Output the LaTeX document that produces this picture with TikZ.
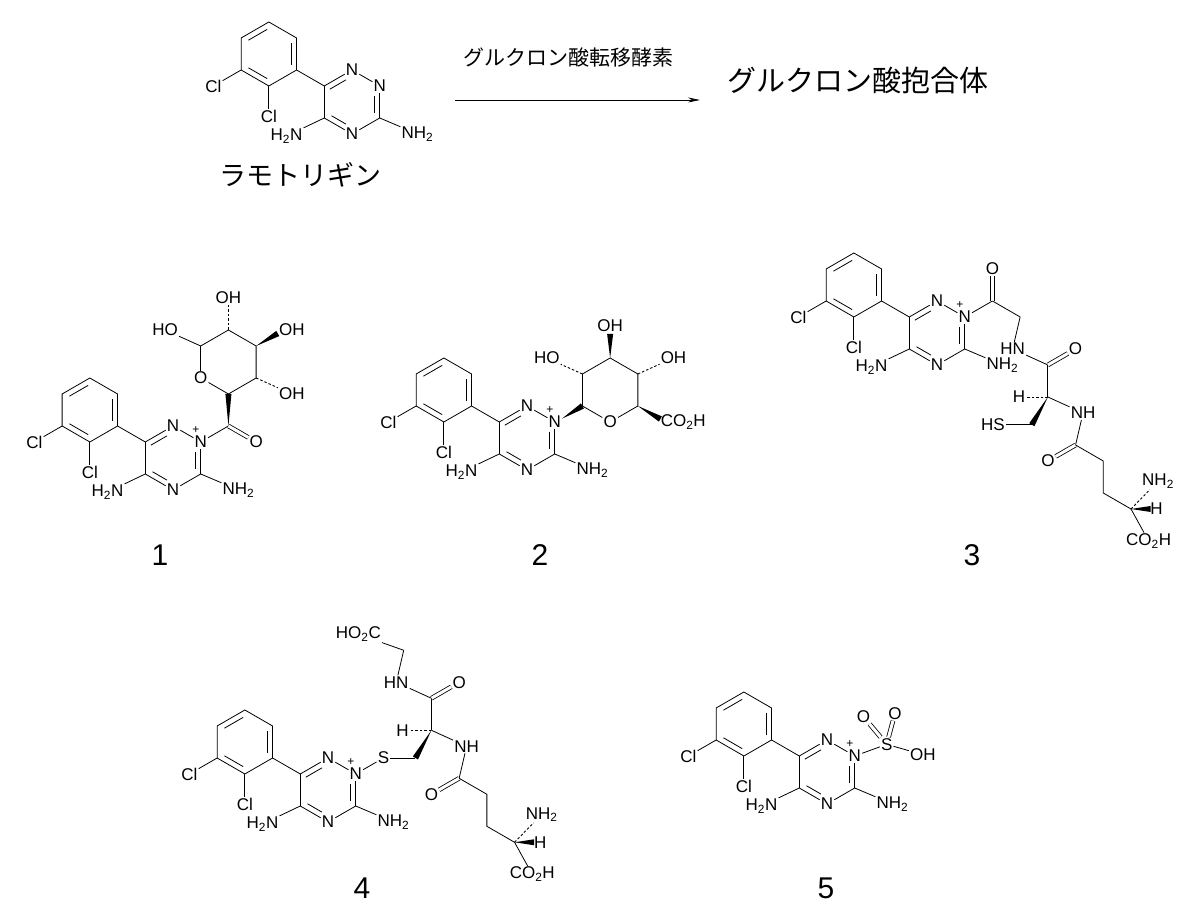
\documentclass[tikz,border=0pt]{standalone}
\usepackage{fontspec}
\setsansfont{Liberation Sans}
\newfontfamily\jpfont{Noto Sans CJK JP}
\usetikzlibrary{calc, arrows.meta}

\def\bl{32pt} % bond length

\tikzset{
    atom/.style = {font=\sffamily\fontsize{17}{17}\selectfont, inner sep=1pt},
    chg/.style = {font=\sffamily\fontsize{12}{12}\selectfont, inner sep=0pt},
    bond/.style = {line width=0.8pt},
    dbl/.style = {line width=0.8pt, double, double distance=3pt},
    hash/.style = {line width=0.9pt, dash pattern=on 2.5pt off 2pt},
    caption/.style = {font=\sffamily\fontsize{30}{30}\selectfont}
}

% wedge bond: narrow at #1, wide at #2, stopping #3 before #2
\newcommand{\wdg}[3]{%
    \coordinate (wdgend) at ($(#2)!#3!(#1)$);
    \fill (#1) -- ($(wdgend)!3pt!90:(#1)$) -- ($(wdgend)!3pt!-90:(#1)$) -- cycle;}

% lamotrigine core, triazine centred at the scope origin
\newcommand{\lamcore}[2]{%
    \node[atom] (#1n1) at (90:\bl) {N};
    \node[atom,#2] (#1n2) at (30:\bl) {N};
    \node[atom] (#1n4) at (-90:\bl) {N};
    \coordinate (#1c3) at (-30:\bl);
    \coordinate (#1c5) at (-150:\bl);
    \coordinate (#1c6) at (150:\bl);
    \coordinate (#1bz) at ($(#1c6)+(150:2*\bl)$);
    \foreach \k in {90,30,-30,-90,-150,150}
        \coordinate (#1b\k) at ($(#1bz)+(\k:\bl)$);
    \node[atom] (#1cl1) at ($(#1b-150)+(-150:\bl)$) {Cl};
    \node[atom] (#1cl2) at ($(#1b-90)+(-90:0.95*\bl)$) {Cl};
    \node[atom,anchor=west,xshift=-7pt] (#1nh) at ($(#1c3)+(-30:\bl)$) {NH\textsubscript{2}};
    \node[atom,anchor=east,xshift=7pt,yshift=-2pt] (#1hn) at ($(#1c5)+(-150:\bl)$) {H\textsubscript{2}N};
    \draw[bond] (#1c6) -- (#1n1);
    \draw[bond] (#1n1) -- (#1n2);
    \draw[bond] (#1n2) -- (#1c3);
    \draw[bond] (#1c3) -- (#1n4);
    \draw[bond] (#1n4) -- (#1c5);
    \draw[bond] (#1c5) -- (#1c6);
    \draw[bond,shorten >=7pt] ($(0,0)!0.8!(#1c6)$) -- ($(0,0)!0.8!(#1n1)$);
    \draw[bond,shorten <=7pt,shorten >=2pt] ($(0,0)!0.8!(#1n2)$) -- ($(0,0)!0.8!(#1c3)$);
    \draw[bond,shorten >=7pt,shorten <=2pt] ($(0,0)!0.8!(#1c5)$) -- ($(0,0)!0.8!(#1n4)$);
    \draw[bond] (#1c6) -- (#1b-30);
    \draw[bond] (#1b90) -- (#1b30) -- (#1b-30) -- (#1b-90) -- (#1b-150) -- (#1b150) -- cycle;
    \draw[bond,shorten <=2pt,shorten >=2pt] ($(#1bz)!0.8!(#1b150)$) -- ($(#1bz)!0.8!(#1b90)$);
    \draw[bond,shorten <=2pt,shorten >=2pt] ($(#1bz)!0.8!(#1b30)$) -- ($(#1bz)!0.8!(#1b-30)$);
    \draw[bond,shorten <=2pt,shorten >=2pt] ($(#1bz)!0.8!(#1b-150)$) -- ($(#1bz)!0.8!(#1b-90)$);
    \draw[bond] (#1b-150) -- (#1cl1);
    \draw[bond] (#1b-90) -- (#1cl2);
    \draw[bond] (#1c3) -- (#1nh);
    \draw[bond] (#1c5) -- (#1hn);
}

\begin{document}
\begin{tikzpicture}[x=1pt, y=1pt]
    \useasboundingbox (0,0) rectangle (1200,923);

    % lamotrigine and the reaction
    \begin{scope}[shift={(352,821)}]
        \lamcore{l}{}
    \end{scope}
    \node[font=\jpfont\fontsize{27}{27}\selectfont] (lname) at (300,748) {ラモトリギン};
    \coordinate (arrs) at (455,823);
    \coordinate (arre) at (700,823);
    \draw[bond,-{Stealth[length=12pt,width=5pt]}] (arrs) -- (arre);
    \node[font=\jpfont\fontsize{21}{21}\selectfont] (enz) at (568,865) {グルクロン酸転移酵素};
    \node[font=\jpfont\fontsize{29}{29}\selectfont] (prod) at (858,843) {グルクロン酸抱合体};

    % compound 1
    \begin{scope}[shift={(173,465)}]
        \lamcore{a}{label={[chg,yshift=1pt]100:+}}
        \coordinate (ac) at ($(an2)+(30:\bl)$);
        \node[atom] (ao) at ($(ac)+(-30:\bl)$) {O};
        \coordinate (as) at ($(ac)+(0,2*\bl)$);
        \foreach \k in {90,30,-30,-90,150}
            \coordinate (ar\k) at ($(as)+(\k:\bl)$);
        \node[atom] (aor) at ($(as)+(-150:\bl)$) {O};
        \coordinate (at3) at ($(ar30)+(30:\bl)$);
        \node[atom,anchor=east,xshift=6pt] (aoh1) at ($(ar150)+(150:\bl)$) {HO};
        \node[atom] (aoh2) at ($(ar90)+(90:\bl)$) {OH};
        \node[atom,anchor=west,xshift=-6pt] (aoh3) at (at3) {OH};
        \node[atom,anchor=west,xshift=-6pt] (aoh4) at ($(ar-30)+(-30:\bl)$) {OH};
        \draw[bond] (an2) -- (ac);
        \draw[dbl] (ac) -- (ao);
        \wdg{ac}{ar-90}{0pt}
        \draw[bond] (ar-90) -- (aor);
        \draw[bond] (aor) -- (ar150);
        \draw[bond] (ar150) -- (ar90) -- (ar30) -- (ar-30) -- (ar-90);
        \draw[bond] (ar150) -- (aoh1);
        \draw[hash] (ar90) -- (aoh2);
        \wdg{ar30}{at3}{7pt}
        \draw[hash] (ar-30) -- (aoh4);
    \end{scope}
    \node[caption] (cap1) at (160,368) {1};

    % compound 2
    \begin{scope}[shift={(527,485)}]
        \lamcore{b}{label={[chg,yshift=1pt]100:+}}
        \coordinate (br-150) at ($(bn2)+(30:\bl)$);
        \coordinate (bs) at ($(br-150)+(30:\bl)$);
        \foreach \k in {150,90,30,-30}
            \coordinate (br\k) at ($(bs)+(\k:\bl)$);
        \node[atom] (bor) at ($(bs)+(-90:\bl)$) {O};
        \coordinate (bt2) at ($(br90)+(90:\bl)$);
        \coordinate (bt4) at ($(br-30)+(-30:\bl)$);
        \node[atom,anchor=east,xshift=6pt] (boh1) at ($(br150)+(150:\bl)$) {HO};
        \node[atom] (boh2) at (bt2) {OH};
        \node[atom,anchor=west,xshift=-6pt] (boh3) at ($(br30)+(30:\bl)$) {OH};
        \node[atom,anchor=west,xshift=-6pt] (bco) at (bt4) {CO\textsubscript{2}H};
        \wdg{bn2}{br-150}{0pt}
        \draw[bond] (br-150) -- (br150) -- (br90) -- (br30) -- (br-30);
        \draw[bond] (br-30) -- (bor);
        \draw[bond] (bor) -- (br-150);
        \draw[hash] (br150) -- (boh1);
        \wdg{br90}{bt2}{8pt}
        \draw[hash] (br30) -- (boh3);
        \wdg{br-30}{bt4}{6pt}
    \end{scope}
    \node[caption] (cap2) at (540,368) {2};

    % compound 3
    \begin{scope}[shift={(937,590)}]
        \lamcore{c}{label={[chg,yshift=1pt]100:+}}
        \coordinate (cc1) at ($(cn2)+(30:\bl)$);
        \node[atom] (co1) at ($(cc1)+(90:\bl)$) {O};
        \coordinate (cm) at ($(cc1)+(-30:\bl)$);
        \coordinate (chnp) at ($(cm)+(-90:\bl)$);
        \node[atom,anchor=east,xshift=6pt] (chn) at (chnp) {HN};
        \coordinate (cc2) at ($(chnp)+(-30:\bl)$);
        \node[atom] (co2) at ($(cc2)+(30:\bl)$) {O};
        \coordinate (cca) at ($(cc2)+(-90:\bl)$);
        \node[atom] (ch) at ($(cca)+(180:0.9*\bl)$) {H};
        \coordinate (ccb) at ($(cca)+(-120:\bl)$);
        \node[atom,anchor=east,xshift=6pt] (chs) at ($(ccb)+(180:\bl)$) {HS};
        \coordinate (cnhp) at ($(cca)+(-30:\bl)$);
        \node[atom,anchor=west,xshift=-6pt] (cnh) at (cnhp) {NH};
        \coordinate (cc3) at ($(cnhp)+(-90:\bl)$);
        \node[atom] (co3) at ($(cc3)+(-150:\bl)$) {O};
        \coordinate (cc4) at ($(cc3)+(-30:\bl)$);
        \coordinate (cc5) at ($(cc4)+(-90:\bl)$);
        \coordinate (ccg) at ($(cc5)+(-30:\bl)$);
        \coordinate (cth) at ($(ccg)+(0:0.8*\bl)$);
        \node[atom,anchor=west,xshift=-6pt] (cnh2) at ($(ccg)+(60:\bl)$) {NH\textsubscript{2}};
        \node[atom] (chh) at (cth) {H};
        \node[atom,anchor=west,xshift=-6pt] (cco) at ($(ccg)+(-90:\bl)$) {CO\textsubscript{2}H};
        \draw[bond] (cn2) -- (cc1);
        \draw[dbl] (cc1) -- (co1);
        \draw[bond] (cc1) -- (cm);
        \draw[bond] (cm) -- (chn);
        \draw[bond] (chn) -- (cc2);
        \draw[dbl] (cc2) -- (co2);
        \draw[bond] (cc2) -- (cca);
        \draw[hash] (cca) -- (ch);
        \wdg{cca}{ccb}{0pt}
        \draw[bond] (ccb) -- (chs);
        \draw[bond] (cca) -- (cnh);
        \draw[bond] (cnh) -- (cc3);
        \draw[dbl] (cc3) -- (co3);
        \draw[bond] (cc3) -- (cc4) -- (cc5) -- (ccg);
        \draw[hash] (ccg) -- (cnh2);
        \wdg{ccg}{cth}{6pt}
        \draw[bond] (ccg) -- (cco);
    \end{scope}
    \node[caption] (cap3) at (972,368) {3};

    % compound 4
    \begin{scope}[shift={(328,133)}]
        \lamcore{d}{label={[chg,yshift=1pt]100:+}}
        \node[atom] (ds) at ($(dn2)+(30:\bl)$) {S};
        \coordinate (dcb) at ($(ds)+(0:\bl)$);
        \coordinate (dca) at ($(dcb)+(60:\bl)$);
        \node[atom] (dh) at ($(dca)+(180:0.9*\bl)$) {H};
        \coordinate (dc1) at ($(dca)+(90:\bl)$);
        \node[atom] (do1) at ($(dc1)+(30:\bl)$) {O};
        \coordinate (dhnp) at ($(dc1)+(150:\bl)$);
        \node[atom,anchor=east,xshift=6pt] (dhn) at (dhnp) {HN};
        \coordinate (dm) at ($(dhnp)+(90:\bl)$);
        \node[atom,anchor=east,xshift=6pt] (dhoc) at ($(dm)+(150:\bl)$) {HO\textsubscript{2}C};
        \coordinate (dnhp) at ($(dca)+(-30:\bl)$);
        \node[atom,anchor=west,xshift=-6pt] (dnh) at (dnhp) {NH};
        \coordinate (dc3) at ($(dnhp)+(-90:\bl)$);
        \node[atom] (do3) at ($(dc3)+(-150:\bl)$) {O};
        \coordinate (dc4) at ($(dc3)+(-30:\bl)$);
        \coordinate (dc5) at ($(dc4)+(-90:\bl)$);
        \coordinate (dcg) at ($(dc5)+(-30:\bl)$);
        \coordinate (dth) at ($(dcg)+(0:0.8*\bl)$);
        \node[atom,anchor=west,xshift=-6pt] (dnh2) at ($(dcg)+(60:\bl)$) {NH\textsubscript{2}};
        \node[atom] (dhh) at (dth) {H};
        \node[atom,anchor=west,xshift=-6pt] (dco) at ($(dcg)+(-90:\bl)$) {CO\textsubscript{2}H};
        \draw[bond] (dn2) -- (ds);
        \draw[bond] (ds) -- (dcb);
        \wdg{dca}{dcb}{0pt}
        \draw[hash] (dca) -- (dh);
        \draw[bond] (dca) -- (dc1);
        \draw[dbl] (dc1) -- (do1);
        \draw[bond] (dc1) -- (dhn);
        \draw[bond] (dhn) -- (dm);
        \draw[bond] (dm) -- (dhoc);
        \draw[bond] (dca) -- (dnh);
        \draw[bond] (dnh) -- (dc3);
        \draw[dbl] (dc3) -- (do3);
        \draw[bond] (dc3) -- (dc4) -- (dc5) -- (dcg);
        \draw[hash] (dcg) -- (dnh2);
        \wdg{dcg}{dth}{6pt}
        \draw[bond] (dcg) -- (dco);
    \end{scope}
    \node[caption] (cap4) at (362,35) {4};

    % compound 5
    \begin{scope}[shift={(827,151)}]
        \lamcore{e}{label={[chg,yshift=1pt]100:+}}
        \node[atom] (es) at ($(en2)+(20:34pt)$) {S};
        \node[atom] (eo1) at ($(es)+(130:36pt)$) {O};
        \node[atom] (eo2) at ($(es)+(75:32pt)$) {O};
        \node[atom,anchor=west,xshift=-6pt] (eoh) at ($(es)+(-20:30pt)$) {OH};
        \draw[bond] (en2) -- (es);
        \draw[dbl] (es) -- (eo1);
        \draw[dbl] (es) -- (eo2);
        \draw[bond] (es) -- (eoh);
    \end{scope}
    \node[caption] (cap5) at (826,35) {5};
\end{tikzpicture}
\end{document}
